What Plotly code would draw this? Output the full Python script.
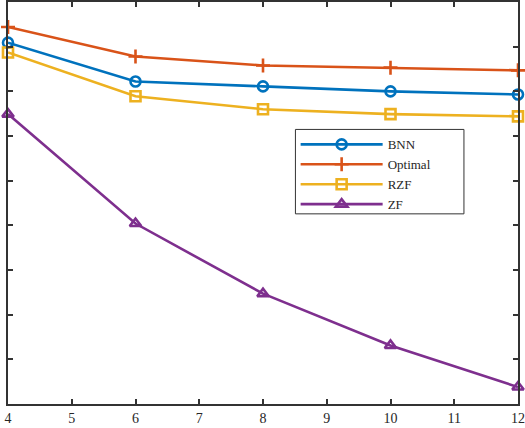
import plotly.graph_objects as go

x_vals = [4, 6, 8, 10, 12]
bnn = [8.09, 7.22, 7.11, 7.00, 6.93]
optimal = [8.44, 7.78, 7.58, 7.53, 7.47]
rzf = [7.87, 6.89, 6.60, 6.49, 6.44]
zf = [6.49, 4.04, 2.47, 1.31, 0.38]

series = [
    ("BNN", bnn, "#0072BD", "circle-open"),
    ("Optimal", optimal, "#D95319", "cross-thin-open"),
    ("RZF", rzf, "#EDB120", "square-open"),
    ("ZF", zf, "#7E2F8E", "triangle-up-open"),
]

fig = go.Figure()
for name, ys, color, sym in series:
    fig.add_trace(go.Scatter(
        x=x_vals, y=ys, name=name, mode="lines+markers",
        line=dict(color=color, width=2.6),
        marker=dict(symbol=sym, size=10, color=color, line=dict(color=color, width=2.6)),
        cliponaxis=False,
    ))

axis_color = "#333333"

# legend frame (layout decoration)
fig.add_shape(type="rect", xref="paper", yref="paper",
              x0=0.5636, x1=0.894, y0=0.473, y1=0.683,
              line=dict(color=axis_color, width=1), fillcolor="white", layer="above")

fig.update_layout(
    width=525, height=428,
    margin=dict(l=8, r=6, t=0, b=24),
    paper_bgcolor="white", plot_bgcolor="white",
    font=dict(family="Liberation Serif", size=14, color="#262626"),
    showlegend=True,
    legend=dict(
        x=0.564, y=0.683, xanchor="left", yanchor="top",
        bgcolor="rgba(0,0,0,0)", borderwidth=0,
        font=dict(family="Liberation Serif", size=13, color="#262626"),
        itemwidth=82,
        tracegroupgap=0,
    ),
    xaxis=dict(
        range=[4, 12], tickmode="array", tickvals=list(range(4, 13)),
        ticks="inside", ticklen=5, tickcolor=axis_color, tickwidth=1.5,
        ticklabeloverflow="allow",
        showline=True, linecolor=axis_color, linewidth=1.5, mirror="ticks",
        showgrid=False, zeroline=False,
    ),
    yaxis=dict(
        range=[0, 9.0], tickmode="array", tickvals=list(range(0, 10)),
        showticklabels=False,
        ticks="inside", ticklen=5, tickcolor=axis_color, tickwidth=1.5,
        showline=True, linecolor=axis_color, linewidth=1.5, mirror="ticks",
        showgrid=False, zeroline=False,
    ),
)

fig.write_html("out.html")
